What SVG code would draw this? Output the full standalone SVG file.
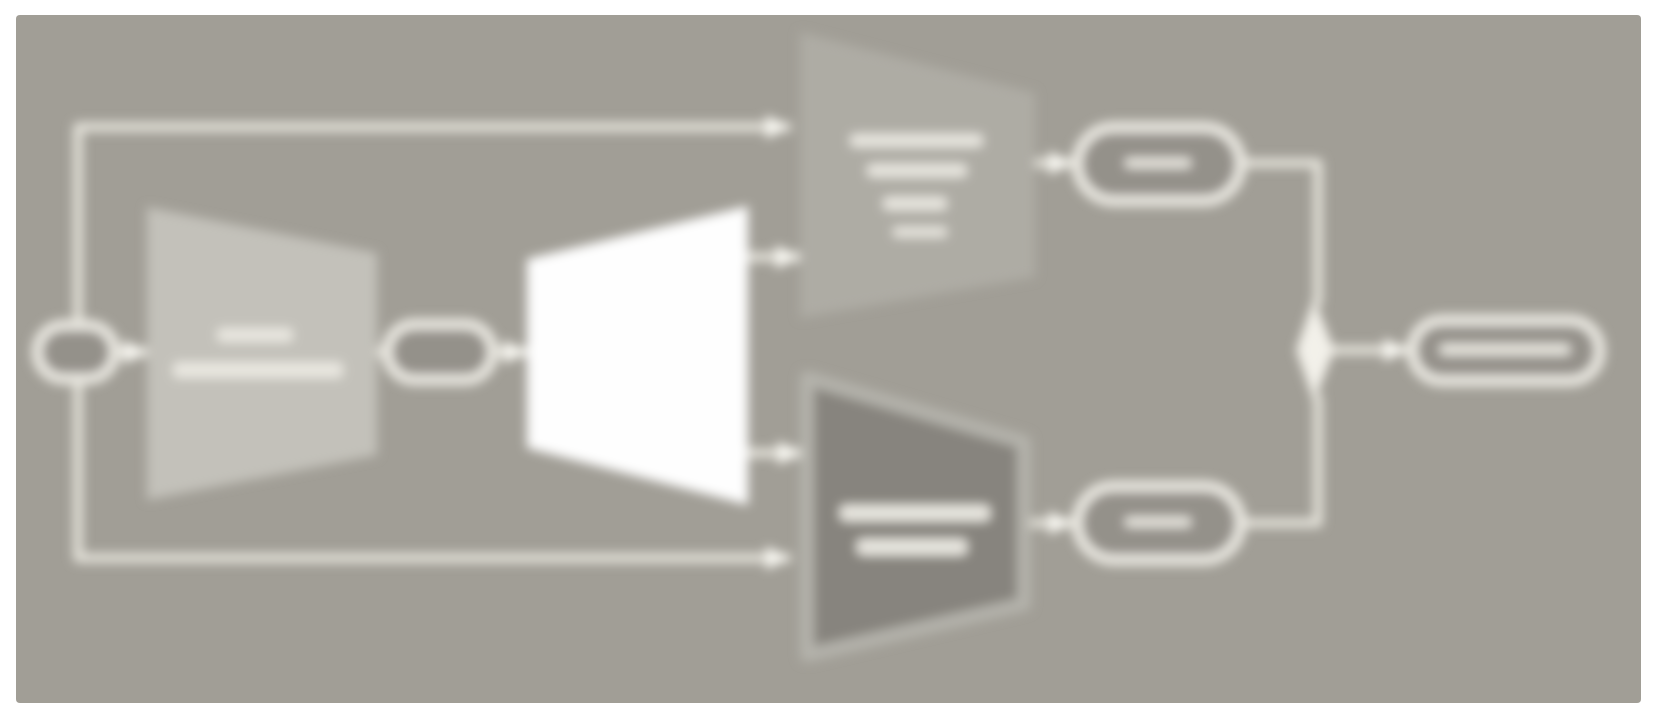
<svg xmlns="http://www.w3.org/2000/svg" width="1656" height="720" viewBox="0 0 1656 720">
  <defs>
    <style>
      .wire { fill: none; stroke: #e6e4dc; stroke-width: 9; stroke-linejoin: round; stroke-linecap: round; }
      .pill { fill: #94918a; stroke: #ebe9e2; stroke-width: 11; }
      .bar { fill: #e9e7e0; }
    </style>
    <marker id="arr" viewBox="0 0 10 10" refX="9" refY="5" markerWidth="2.6" markerHeight="2.6" orient="auto" markerUnits="strokeWidth">
      <path d="M0,0 L10,5 L0,10 z" fill="#fbfaf4"/>
    </marker>
    <filter id="soft" x="-5%" y="-5%" width="110%" height="110%">
      <feGaussianBlur stdDeviation="5.5"/>
    </filter>
  </defs>
  <rect width="1656" height="720" fill="#ffffff"/>
  <rect x="16" y="15" width="1625" height="688" rx="4" fill="#a19e96"/>
  <g filter="url(#soft)">
    <g id="connectors">
      <path class="wire" d="M78,323 L78,127 L787,127" marker-end="url(#arr)"/>
      <path class="wire" d="M78,381 L78,558 L787,558" marker-end="url(#arr)"/>
      <path class="wire" d="M117,352 L145,352" marker-end="url(#arr)"/>
      <path class="wire" d="M377,352 L384,352"/>
      <path class="wire" d="M495,352 L525,352" marker-end="url(#arr)"/>
      <path class="wire" d="M748,257 L797,257" marker-end="url(#arr)"/>
      <path class="wire" d="M748,453 L799,453" marker-end="url(#arr)"/>
      <path class="wire" d="M1035,163 L1070,163" marker-end="url(#arr)"/>
      <path class="wire" d="M1030,523 L1070,523" marker-end="url(#arr)"/>
      <path class="wire" d="M1243,163 L1318,163 L1318,302"/>
      <path class="wire" d="M1243,523 L1318,523 L1318,398"/>
      <path class="wire" d="M1332,350 L1405,350" marker-end="url(#arr)"/>
    </g>
    <g id="input">
      <rect class="pill" x="37" y="325" width="78" height="54" rx="27"/>
    </g>
    <g id="encoder">
      <polygon points="147,207 377,253 377,455 147,500" fill="#c3c1ba"/>
      <rect class="bar" x="217" y="328" width="76" height="14" rx="5"/>
      <rect class="bar" x="173" y="362" width="170" height="16" rx="5"/>
    </g>
    <g id="latent">
      <rect class="pill" x="387" y="324" width="106" height="56" rx="28"/>
    </g>
    <g id="decoder">
      <polygon points="527,259 748,206 748,505 527,448" fill="#fefefe"/>
    </g>
    <g id="head-top">
      <polygon points="800,32 1035,93 1035,277 800,318" fill="#aeaca4"/>
      <rect class="bar" x="850" y="134" width="133" height="13" rx="5"/>
      <rect class="bar" x="867" y="164" width="100" height="13" rx="5"/>
      <rect class="bar" x="883" y="197" width="64" height="13" rx="5"/>
      <rect class="bar" x="893" y="227" width="54" height="10" rx="4"/>
    </g>
    <g id="head-bottom">
      <polygon points="807,378 1024,442 1024,604 807,655" fill="#87847e" stroke="#b4b2ab" stroke-width="14" stroke-linejoin="round"/>
      <rect class="bar" x="840" y="505" width="150" height="16" rx="5"/>
      <rect class="bar" x="857" y="539" width="110" height="16" rx="5"/>
    </g>
    <g id="out-top">
      <rect class="pill" x="1077" y="127" width="164" height="74" rx="37"/>
      <rect class="bar" x="1125" y="158" width="66" height="10" rx="4"/>
    </g>
    <g id="out-bottom">
      <rect class="pill" x="1077" y="486" width="164" height="74" rx="37"/>
      <rect class="bar" x="1125" y="517" width="66" height="10" rx="4"/>
    </g>
    <g id="merge">
      <polygon points="1314,298 1334,350 1314,402 1296,350" fill="#f3f1ea"/>
    </g>
    <g id="output">
      <rect class="pill" x="1412" y="320" width="188" height="61" rx="30"/>
      <rect class="bar" x="1440" y="344" width="130" height="11" rx="4"/>
    </g>
  </g>
</svg>
